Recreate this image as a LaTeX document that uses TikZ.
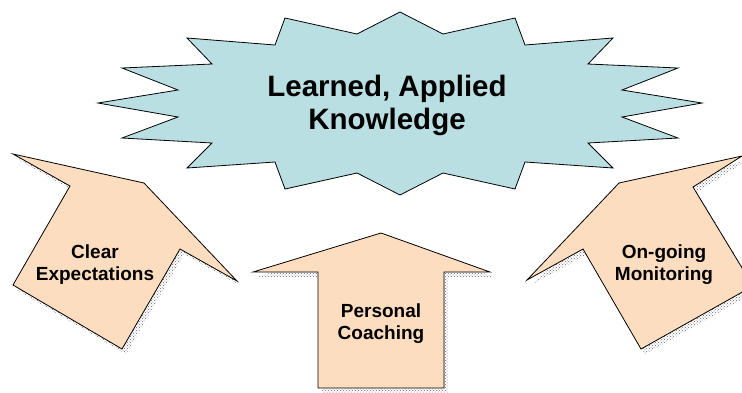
\documentclass[tikz,border=0pt]{standalone}
\usepackage{fontspec}
\setmainfont{Liberation Sans}
\usetikzlibrary{patterns}
\definecolor{starblue}{RGB}{186,223,227}
\definecolor{peach}{RGB}{253,221,191}
\tikzset{
  burst/.style={fill=starblue,draw=black,line width=0.8pt,line join=miter},
  arrowbody/.style={fill=peach,draw=black,line width=0.8pt,line join=miter},
  dropshadow/.style={pattern=crosshatch dots,pattern color=black!60,shift={(4,5)}},
  bigtext/.style={align=center,font=\fontsize{29.5}{33}\selectfont\bfseries},
  smalltext/.style={align=center,font=\fontsize{19}{22}\selectfont\bfseries}
}
\begin{document}
\begin{tikzpicture}[x=1pt,y=-1pt]
\useasboundingbox (0,0) rectangle (742,392);
\clip (0,0) rectangle (742,392);

% central burst
\path[burst] (400,12) -- (443,34) -- (515,18) -- (525,45) -- (613,38) -- (588,64)
  -- (678,68) -- (622,90) -- (702,103) -- (622,117) -- (678,138) -- (588,143)
  -- (613,168) -- (525,162) -- (515,189) -- (443,173) -- (400,195) -- (357,173)
  -- (285,189) -- (275,162) -- (187,168) -- (212,143) -- (122,138) -- (178,117)
  -- (98,103) -- (178,90) -- (122,68) -- (212,64) -- (187,38) -- (275,45)
  -- (285,18) -- (357,34) -- cycle;
\node[bigtext] (goal) at (387,105) {Learned, Applied\\Knowledge};

% left arrow
\path[dropshadow] (13,154) -- (144,183) -- (237,281) -- (180,249) -- (122,349)
  -- (13,285) -- (70,186) -- cycle;
\path[arrowbody] (13,154) -- (144,183) -- (237,281) -- (180,249) -- (122,349)
  -- (13,285) -- (70,186) -- cycle;
\node[smalltext] (clear) at (95,264.5) {Clear\\Expectations};

% middle arrow
\path[dropshadow] (381,233) -- (490,272) -- (444,272) -- (444,388) -- (318,388)
  -- (318,272) -- (253,272) -- cycle;
\path[arrowbody] (381,233) -- (490,272) -- (444,272) -- (444,388) -- (318,388)
  -- (318,272) -- (253,272) -- cycle;
\node[smalltext] (coach) at (381,323.5) {Personal\\Coaching};

% right arrow
\path[dropshadow] (742,156) -- (619,183) -- (527,280) -- (583,249) -- (641,349)
  -- (753,286) -- (693,187) -- cycle;
\path[arrowbody] (742,156) -- (619,183) -- (527,280) -- (583,249) -- (641,349)
  -- (753,286) -- (693,187) -- cycle;
\node[smalltext] (monitor) at (664,264.5) {On-going\\Monitoring};
\end{tikzpicture}
\end{document}
